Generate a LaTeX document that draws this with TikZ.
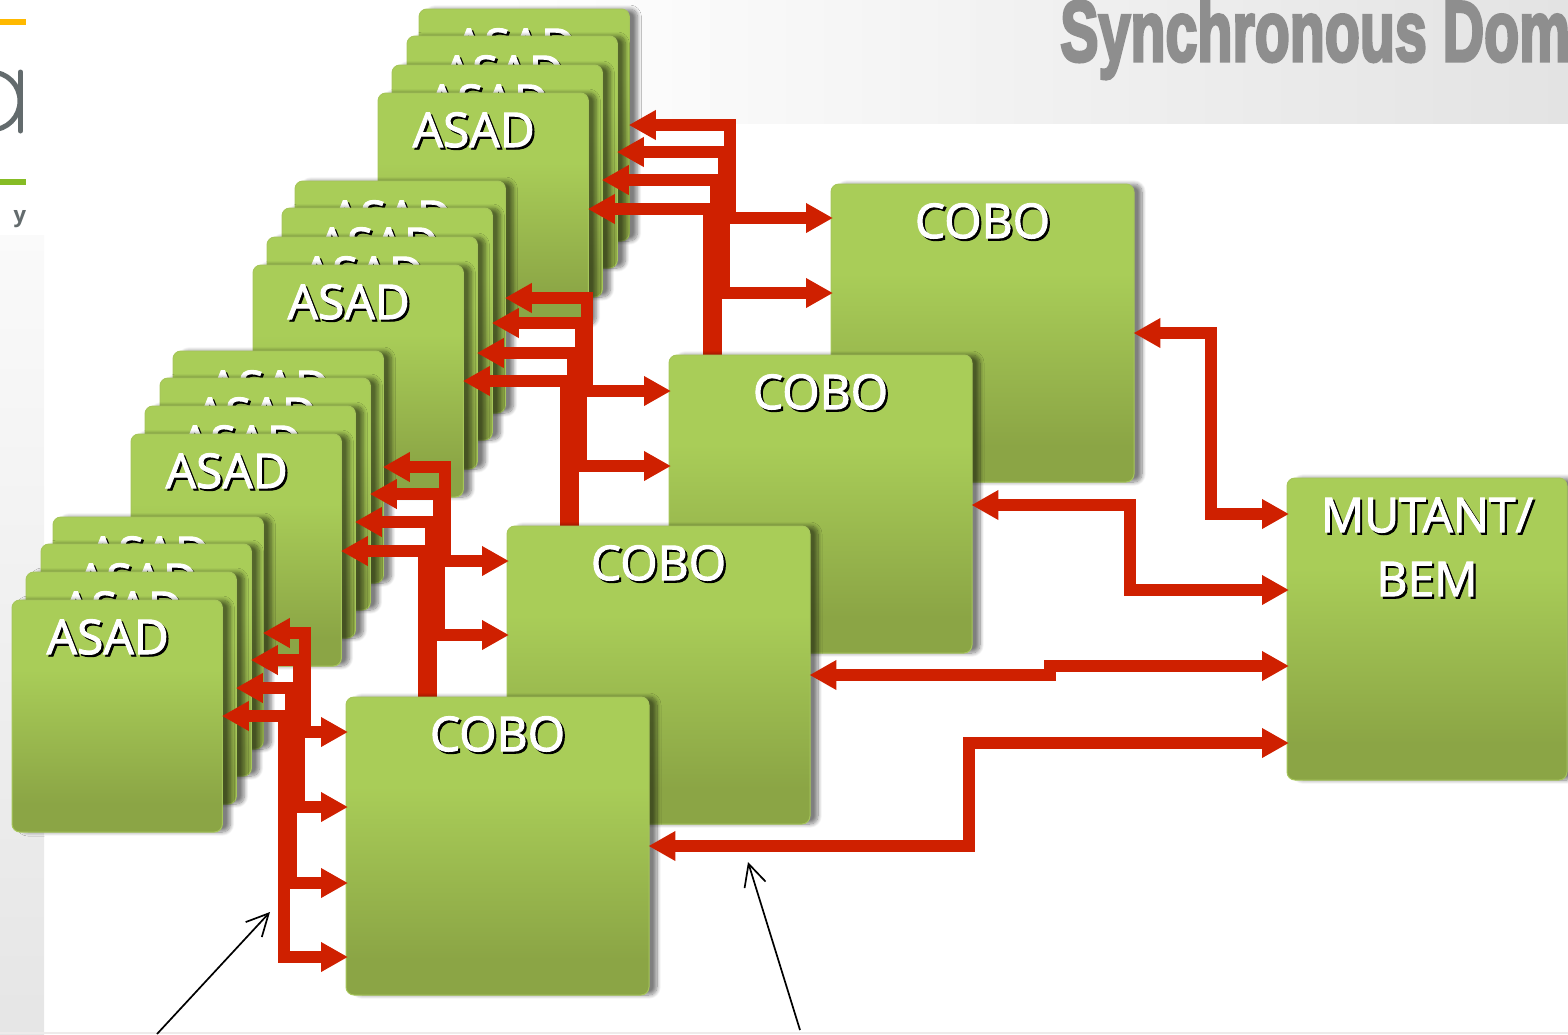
\documentclass[tikz,border=0pt]{standalone}
\usepackage{fontspec}
\setmainfont{Open Sans}
\newfontfamily\cardfont[FakeBold=2]{Open Sans}
\newfontfamily\titlefont[FakeBold=4]{Liberation Sans Bold}
\usetikzlibrary{arrows.meta,shadows.blur}
\definecolor{cardtop}{HTML}{A9CD58}
\definecolor{cardlow}{HTML}{8BA545}
\definecolor{cardedge}{HTML}{A6C65A}
\definecolor{busred}{HTML}{CF2000}
\definecolor{logogray}{HTML}{636B6D}
\definecolor{logoamber}{HTML}{FFB900}
\definecolor{logogreen}{HTML}{86BC25}
\definecolor{titlegray}{HTML}{8E8E8E}
\pgfdeclareverticalshading{cardfade}{100bp}{color(0bp)=(cardlow); color(31bp)=(cardlow); color(60bp)=(cardtop); color(100bp)=(cardtop)}
\newcommand{\cardname}[1]{\rlap{\kern1.1pt\raisebox{-1.1pt}{\textcolor{black}{#1}}}\textcolor{white}{#1}}
\tikzset{
	basecard/.style={anchor=north west,inner sep=0pt,outer sep=0pt,rounded corners=4pt,shade,shading=cardfade,draw=cardedge,line width=0.5pt,
		blur shadow={shadow xshift=4pt,shadow yshift=0pt,shadow blur radius=2pt,shadow blur steps=10,shadow opacity=50}},
	asadcard/.style={basecard,minimum width=105.2pt,minimum height=116pt,
		label={[cardtext,xshift=-4.75pt,yshift=-19pt]north:\cardname{ASAD}}},
	cobocard/.style={basecard,minimum width=151.5pt,minimum height=149pt,
		label={[cardtext,yshift=-19pt]north:\cardname{COBO}}},
	cardtext/.style={anchor=center,inner sep=0pt,font=\cardfont\fontsize{24}{32}\selectfont},
	busline/.style={draw=busred,line width=6pt,shorten >=-1pt,shorten <=-0.3pt,{Triangle[length=13.5pt,width=14pt]}-{Triangle[length=13.5pt,width=14pt]}},
	noteline/.style={draw=black,line width=0.85pt,-{Straight Barb[length=11pt,width=11pt]}}
}
\begin{document}
\begin{tikzpicture}[x=0.5pt,y=-0.5pt]
	\useasboundingbox (0,0) rectangle (1568,1034);

	% page background
	\shade[left color=white,right color=black!11] (500,0) rectangle (1568,123);
	\shade[top color=black!2,bottom color=black!10] (0,235) rectangle (44,1034);
	\fill[red!15!black!8] (0,1032) rectangle (1568,1034);
	\fill[logoamber] (0,19) rectangle (26,25);
	\fill[logogreen] (0,179) rectangle (26,185);
	\draw[logogray,line width=2.5pt] (-9,72) arc (-90:90:29);
	\draw[logogray,line width=2.5pt,line cap=round] (20.5,72)--(20.5,131);
	\node[logogray,font=\bfseries\fontsize{11}{11}\selectfont] (logoy) at (20,219) {y};
	\begin{scope}
		\clip (0,0) rectangle (1568,1034);
		\node[anchor=base west,inner sep=0pt,xscale=0.667,titlegray,font=\titlefont\fontsize{43}{43}\selectfont] (title) at (1060,61) {Synchronous Dom};
	\end{scope}

	% first stack
	\node[asadcard] (asadA4) at (419,9) {};
	\node[asadcard] (asadA3) at (407,36) {};
	\node[asadcard] (asadA2) at (392,65) {};
	\node[asadcard] (asadA1) at (378,93) {};
	\node[cobocard] (coboA) at (831,184) {};
	\foreach \i/\ay/\bx/\by in {4/125/730/218,3/152/724/293,2/180/716/372,1/209/709/443}
		\draw[busline] (asadA\i.east |- 0,\ay) -| (\bx,\by) -- (coboA.west |- 0,\by);

	% second stack
	\node[asadcard] (asadB4) at (295,181) {};
	\node[asadcard] (asadB3) at (282,208) {};
	\node[asadcard] (asadB2) at (267,237) {};
	\node[asadcard] (asadB1) at (253,265) {};
	\node[cobocard] (coboB) at (669,355) {};
	\foreach \i/\ay/\bx/\by in {4/298/587/391,3/323/581/466,2/353/573/545,1/381/566/616}
		\draw[busline] (asadB\i.east |- 0,\ay) -| (\bx,\by) -- (coboB.west |- 0,\by);

	% third stack
	\node[asadcard] (asadC4) at (173,351) {};
	\node[asadcard] (asadC3) at (160,378) {};
	\node[asadcard] (asadC2) at (145,406) {};
	\node[asadcard] (asadC1) at (131,434) {};
	\node[cobocard] (coboC) at (507,526) {};
	\foreach \i/\ay/\bx/\by in {4/467/445/561,3/494/439/635,2/522/431/714,1/551/424/785}
		\draw[busline] (asadC\i.east |- 0,\ay) -| (\bx,\by) -- (coboC.west |- 0,\by);

	% fourth stack
	\node[asadcard] (asadD4) at (53,517) {};
	\node[asadcard] (asadD3) at (41,544) {};
	\node[asadcard] (asadD2) at (26,572) {};
	\node[asadcard] (asadD1) at (12,600) {};
	\node[cobocard] (coboD) at (346,697) {};
	\foreach \i/\ay/\bx/\by in {4/633/305/732,3/660/299/807,2/688/291/883,1/716/284/957}
		\draw[busline] (asadD\i.east |- 0,\ay) -| (\bx,\by) -- (coboD.west |- 0,\by);

	\node[basecard,minimum width=140pt,minimum height=151pt,
		label={[cardtext,align=center,yshift=-35pt]north:\cardname{MUTANT/}\\\cardname{BEM}}] (mutant) at (1287,478) {};

	% links to the trigger card
	\draw[busline] (coboA.east |- 0,333) -| (1211,514) -- (mutant.west |- 0,514);
	\draw[busline] (coboB.east |- 0,505) -| (1130,590) -- (mutant.west |- 0,590);
	\draw[busline] (coboC.east |- 0,675) -| (1050,666) -- (mutant.west |- 0,666);
	\draw[busline] (coboD.east |- 0,846) -| (969,743) -- (mutant.west |- 0,743);

	% pointers
	\coordinate (busfoot) at (157,1034);
	\coordinate (bustip) at (270,912);
	\coordinate (linkfoot) at (800,1030);
	\coordinate (linktip) at (748,862);
	\draw[noteline] (busfoot)--(bustip);
	\draw[noteline] (linkfoot)--(linktip);
\end{tikzpicture}
\end{document}
